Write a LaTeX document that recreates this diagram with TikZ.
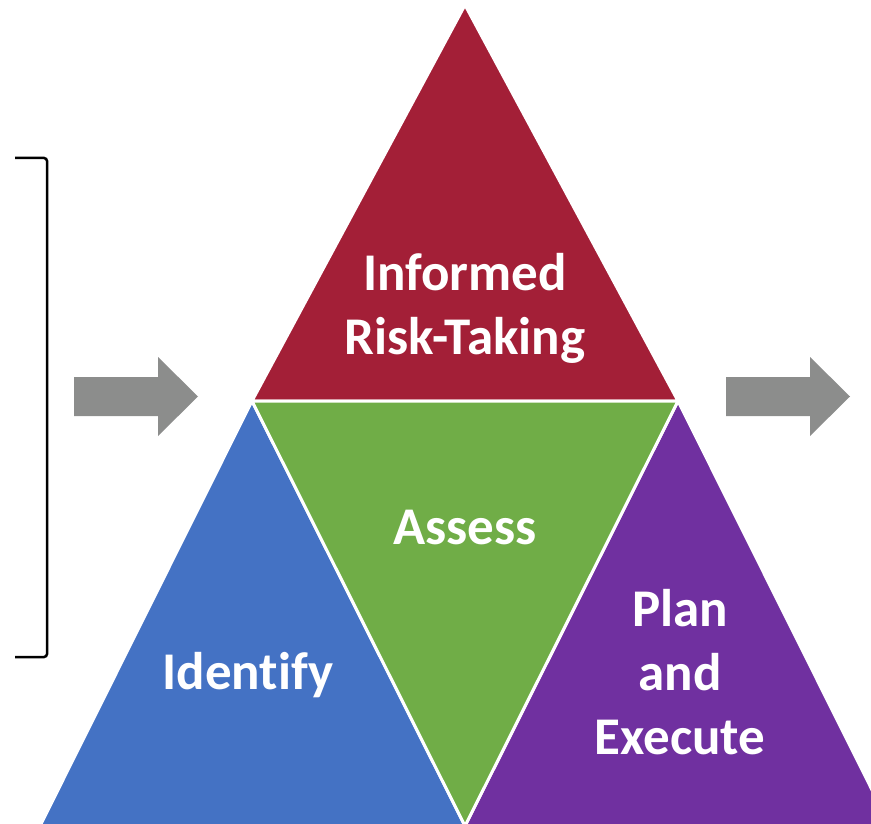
\documentclass[tikz,border=0pt]{standalone}
\usepackage{fontspec}
\setmainfont{Carlito}[Ligatures=CommonOff]
\definecolor{riskred}{HTML}{A31F37}
\definecolor{assessgreen}{HTML}{70AD47}
\definecolor{identblue}{HTML}{4472C4}
\definecolor{planpurple}{HTML}{7030A0}
\definecolor{arrowgray}{HTML}{8C8D8C}
\tikzset{
  tri/.style={draw=white, line width=3pt, line join=miter},
  lbl/.style={text=white, font=\fontsize{53}{64}\selectfont\bfseries, align=center}
}
\begin{document}
\begin{tikzpicture}[x=1pt, y=-1pt]
    \useasboundingbox (0,0) rectangle (871,824);
    \clip (0,0) rectangle (871,824);
    % 三角形顶点
    \coordinate (top) at (465,5);
    \coordinate (midL) at (252,401);
    \coordinate (midR) at (678,401);
    \coordinate (botM) at (465,826);
    \coordinate (botL) at (40,826);
    \coordinate (botR) at (890,826);

    % 绘制四个三角形
    \filldraw [tri, fill=riskred] (top) -- (midL) -- (midR) -- cycle;
    \filldraw [tri, fill=identblue] (midL) -- (botL) -- (botM) -- cycle;
    \filldraw [tri, fill=planpurple] (midR) -- (botM) -- (botR) -- cycle;
    \filldraw [tri, fill=assessgreen] (midL) -- (midR) -- (botM) -- cycle;

    % 文字
    \node [lbl] (risk) at (465,308) {Informed\\Risk-Taking};
    \node [lbl] (assess) at (465,528) {Assess};
    \node [lbl] (identify) at (248,675) {Identify};
    \node [lbl] (plan) at (680,672) {Plan\\and\\Execute};

    % 左侧括号
    \draw [line width=2.5pt, rounded corners=3pt] (15,158) -- (47,158) -- (47,657) -- (15,657);

    % 灰色箭头
    \fill [arrowgray] (74,377) -- (158,377) -- (158,357) -- (198,396.5) -- (158,436) -- (158,416) -- (74,416) -- cycle;
    \fill [arrowgray] (726,377) -- (810,377) -- (810,357) -- (850,396.5) -- (810,436) -- (810,416) -- (726,416) -- cycle;
\end{tikzpicture}
\end{document}
